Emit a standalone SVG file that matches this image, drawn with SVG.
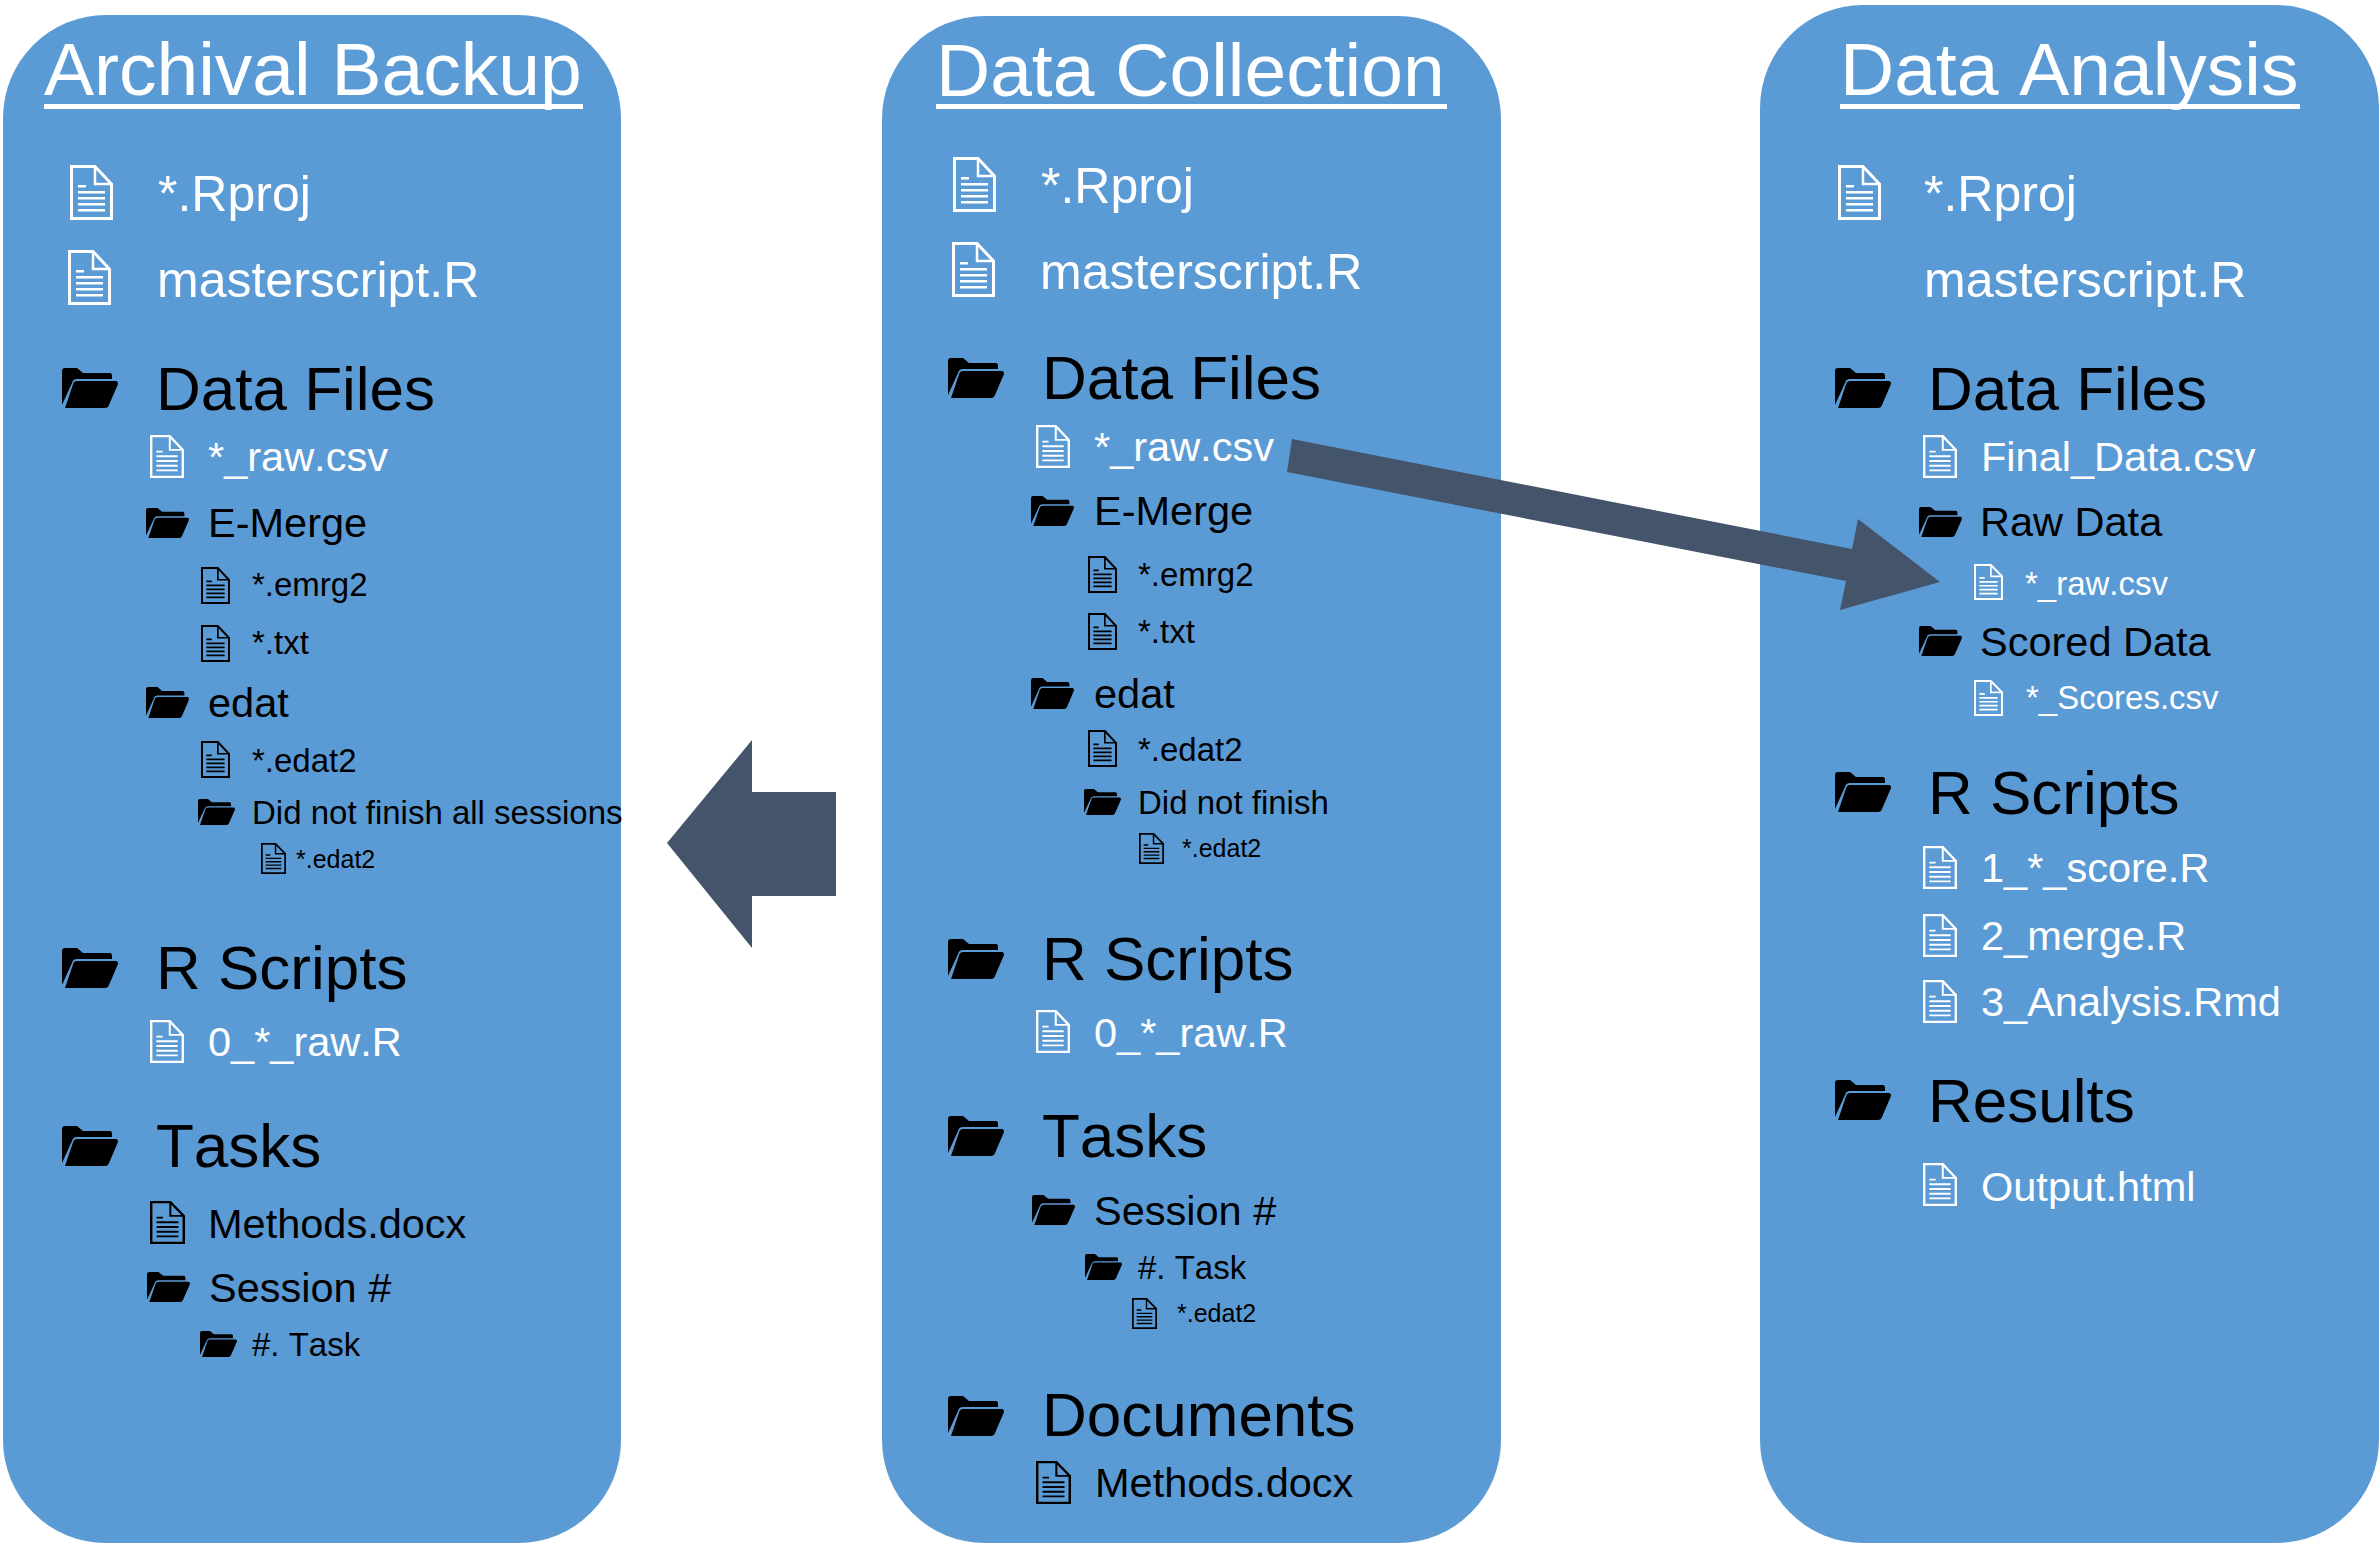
<svg xmlns="http://www.w3.org/2000/svg" width="2379" height="1543" viewBox="0 0 2379 1543">
<style>
text{font-family:"Liberation Sans",Arial,sans-serif;fill:#000;font-kerning:none}
.w{fill:#fff}
.t{font-size:75px;fill:#fff}
.h{font-size:62px}
.a{font-size:50px;fill:#fff}
.s{font-size:41.5px}
.m{font-size:33px}
.x{font-size:25px}
.p{fill:#5B9BD5}
.u{fill:#fff}
.arrow{fill:#44546A}
.k{color:#000}
.v{color:#fff}
</style>
<defs>
<symbol id="file" viewBox="0 0 43 55" preserveAspectRatio="none">
<path d="M1.500 1.500H25L41.500 19V53.500H1.500Z" fill="none" stroke="currentColor" stroke-width="3"/>
<path d="M25 1.500V19H41.500" fill="none" stroke="currentColor" stroke-width="2.500"/>
<path d="M8 20h8v2.500h-8zM8 26h27v2.500h-27zM8 32h27v2.500h-27zM8 38h27v2.500h-27zM8 44h27v2.500h-27z" fill="currentColor"/>
</symbol>
<symbol id="folder" viewBox="0 0 56 40" preserveAspectRatio="none">
<path d="M0 37V3Q0 0 3 0H15L21 5H48Q50 5 50 8V11H15Q11 11 10 15Z" fill="#000"/>
<path d="M3 40L11.500 15Q12.500 13 15 13H54Q56 13 56 16L47 37Q46 40 43 40Z" fill="#000"/>
</symbol>
</defs>

<g id="panel-archival">
<rect class="p" x="3" y="15" width="618" height="1528" rx="103" ry="103"/>
<text class="t" x="44" y="95">Archival Backup</text><rect class="u" x="44" y="104" width="539" height="5"/>
<g id="a1"><use href="#file" class="v" x="70" y="165" width="43" height="55"/><text class="a" x="158" y="211">*.Rproj</text></g>
<g id="a2"><use href="#file" class="v" x="68" y="250" width="43" height="55"/><text class="a" x="157" y="297">masterscript.R</text></g>
<g id="a3"><use href="#folder" x="62" y="368" width="56" height="40"/><text class="h" x="156" y="410">Data Files</text></g>
<g id="a4"><use href="#file" class="v" x="150" y="435" width="34" height="43"/><text class="s w" x="208" y="471">*_raw.csv</text></g>
<g id="a5"><use href="#folder" x="146" y="508" width="43" height="30"/><text class="s" x="208" y="537">E-Merge</text></g>
<g id="a6"><use href="#file" class="k" x="201" y="567" width="29" height="37"/><text class="m" x="252" y="596">*.emrg2</text></g>
<g id="a7"><use href="#file" class="k" x="201" y="625" width="29" height="37"/><text class="m" x="252" y="654">*.txt</text></g>
<g id="a8"><use href="#folder" x="146" y="687" width="43" height="31"/><text class="s" x="208" y="717">edat</text></g>
<g id="a9"><use href="#file" class="k" x="201" y="741" width="29" height="37"/><text class="m" x="252" y="772">*.edat2</text></g>
<g id="a10"><use href="#folder" x="198" y="799" width="37" height="26"/><text class="m" x="252" y="824">Did not finish all sessions</text></g>
<g id="a11"><use href="#file" class="k" x="261" y="843" width="25" height="31"/><text class="x" x="296" y="868">*.edat2</text></g>
<g id="a12"><use href="#folder" x="62" y="948" width="56" height="40"/><text class="h" x="156" y="989">R Scripts</text></g>
<g id="a13"><use href="#file" class="v" x="150" y="1020" width="34" height="43"/><text class="s w" x="208" y="1056">0_*_raw.R</text></g>
<g id="a14"><use href="#folder" x="62" y="1126" width="56" height="40"/><text class="h" x="156" y="1167">Tasks</text></g>
<g id="a15"><use href="#file" class="k" x="150" y="1201" width="35" height="43"/><text class="s" x="208" y="1238">Methods.docx</text></g>
<g id="a16"><use href="#folder" x="147" y="1272" width="43" height="30"/><text class="s" x="209" y="1302">Session #</text></g>
<g id="a17"><use href="#folder" x="200" y="1331" width="37" height="26"/><text class="m" x="252" y="1356">#. Task</text></g>
</g>

<g id="panel-collection">
<rect class="p" x="882" y="16" width="619" height="1527" rx="103" ry="103"/>
<text class="t" x="936" y="96">Data Collection</text><rect class="u" x="936" y="104" width="511" height="5"/>
<g id="b1"><use href="#file" class="v" x="953" y="157" width="43" height="55"/><text class="a" x="1041" y="203">*.Rproj</text></g>
<g id="b2"><use href="#file" class="v" x="952" y="242" width="43" height="55"/><text class="a" x="1040" y="289">masterscript.R</text></g>
<g id="b3"><use href="#folder" x="948" y="358" width="56" height="40"/><text class="h" x="1042" y="399">Data Files</text></g>
<g id="b4"><use href="#file" class="v" x="1036" y="425" width="34" height="43"/><text class="s w" x="1094" y="461">*_raw.csv</text></g>
<g id="b5"><use href="#folder" x="1031" y="496" width="43" height="30"/><text class="s" x="1094" y="525">E-Merge</text></g>
<g id="b6"><use href="#file" class="k" x="1088" y="556" width="29" height="37"/><text class="m" x="1138" y="586">*.emrg2</text></g>
<g id="b7"><use href="#file" class="k" x="1088" y="613" width="29" height="37"/><text class="m" x="1138" y="643">*.txt</text></g>
<g id="b8"><use href="#folder" x="1031" y="678" width="43" height="31"/><text class="s" x="1094" y="708">edat</text></g>
<g id="b9"><use href="#file" class="k" x="1088" y="730" width="29" height="37"/><text class="m" x="1138" y="761">*.edat2</text></g>
<g id="b10"><use href="#folder" x="1084" y="789" width="37" height="26"/><text class="m" x="1138" y="814">Did not finish</text></g>
<g id="b11"><use href="#file" class="k" x="1139" y="833" width="25" height="31"/><text class="x" x="1182" y="857">*.edat2</text></g>
<g id="b12"><use href="#folder" x="948" y="939" width="56" height="40"/><text class="h" x="1042" y="980">R Scripts</text></g>
<g id="b13"><use href="#file" class="v" x="1036" y="1010" width="34" height="43"/><text class="s w" x="1094" y="1047">0_*_raw.R</text></g>
<g id="b14"><use href="#folder" x="948" y="1116" width="56" height="40"/><text class="h" x="1042" y="1157">Tasks</text></g>
<g id="b15"><use href="#folder" x="1032" y="1195" width="43" height="30"/><text class="s" x="1094" y="1225">Session #</text></g>
<g id="b16"><use href="#folder" x="1085" y="1254" width="37" height="26"/><text class="m" x="1138" y="1279">#. Task</text></g>
<g id="b17"><use href="#file" class="k" x="1132" y="1298" width="25" height="31"/><text class="x" x="1177" y="1322">*.edat2</text></g>
<g id="b18"><use href="#folder" x="948" y="1396" width="56" height="40"/><text class="h" x="1042" y="1436">Documents</text></g>
<g id="b19"><use href="#file" class="k" x="1036" y="1461" width="35" height="43"/><text class="s" x="1095" y="1497">Methods.docx</text></g>
</g>

<g id="panel-analysis">
<rect class="p" x="1760" y="5" width="619" height="1538" rx="103" ry="103"/>
<text class="t" x="1840" y="95">Data Analysis</text><rect class="u" x="1840" y="104" width="460" height="5"/>
<g id="c1"><use href="#file" class="v" x="1838" y="165" width="43" height="55"/><text class="a" x="1924" y="211">*.Rproj</text></g>
<g id="c2"><text class="a" x="1924" y="297">masterscript.R</text></g>
<g id="c3"><use href="#folder" x="1835" y="368" width="56" height="40"/><text class="h" x="1928" y="410">Data Files</text></g>
<g id="c4"><use href="#file" class="v" x="1923" y="435" width="34" height="43"/><text class="s w" x="1981" y="471">Final_Data.csv</text></g>
<g id="c5"><use href="#folder" x="1919" y="507" width="43" height="30"/><text class="s" x="1980" y="536">Raw Data</text></g>
<g id="c6"><use href="#file" class="v" x="1974" y="564" width="29" height="36"/><text class="m w" x="2025" y="595">*_raw.csv</text></g>
<g id="c7"><use href="#folder" x="1919" y="626" width="43" height="30"/><text class="s" x="1980" y="656">Scored Data</text></g>
<g id="c8"><use href="#file" class="v" x="1974" y="680" width="29" height="36"/><text class="m w" x="2026" y="709">*_Scores.csv</text></g>
<g id="c9"><use href="#folder" x="1835" y="772" width="56" height="40"/><text class="h" x="1928" y="814">R Scripts</text></g>
<g id="c10"><use href="#file" class="v" x="1923" y="846" width="34" height="43"/><text class="s w" x="1981" y="882">1_*_score.R</text></g>
<g id="c11"><use href="#file" class="v" x="1923" y="914" width="34" height="43"/><text class="s w" x="1981" y="950">2_merge.R</text></g>
<g id="c12"><use href="#file" class="v" x="1923" y="980" width="34" height="43"/><text class="s w" x="1981" y="1016">3_Analysis.Rmd</text></g>
<g id="c13"><use href="#folder" x="1835" y="1080" width="56" height="40"/><text class="h" x="1928" y="1122">Results</text></g>
<g id="c14"><use href="#file" class="v" x="1923" y="1163" width="34" height="43"/><text class="s w" x="1981" y="1201">Output.html</text></g>
</g>

<g id="connectors">
<polygon class="arrow" points="667,843 752,740 752,792 836,792 836,896 752,896 752,948"/>
<polygon class="arrow" points="1292,439 1852,549 1858,519 1940,582 1840,610 1846,581 1287,472"/>
</g>
</svg>
